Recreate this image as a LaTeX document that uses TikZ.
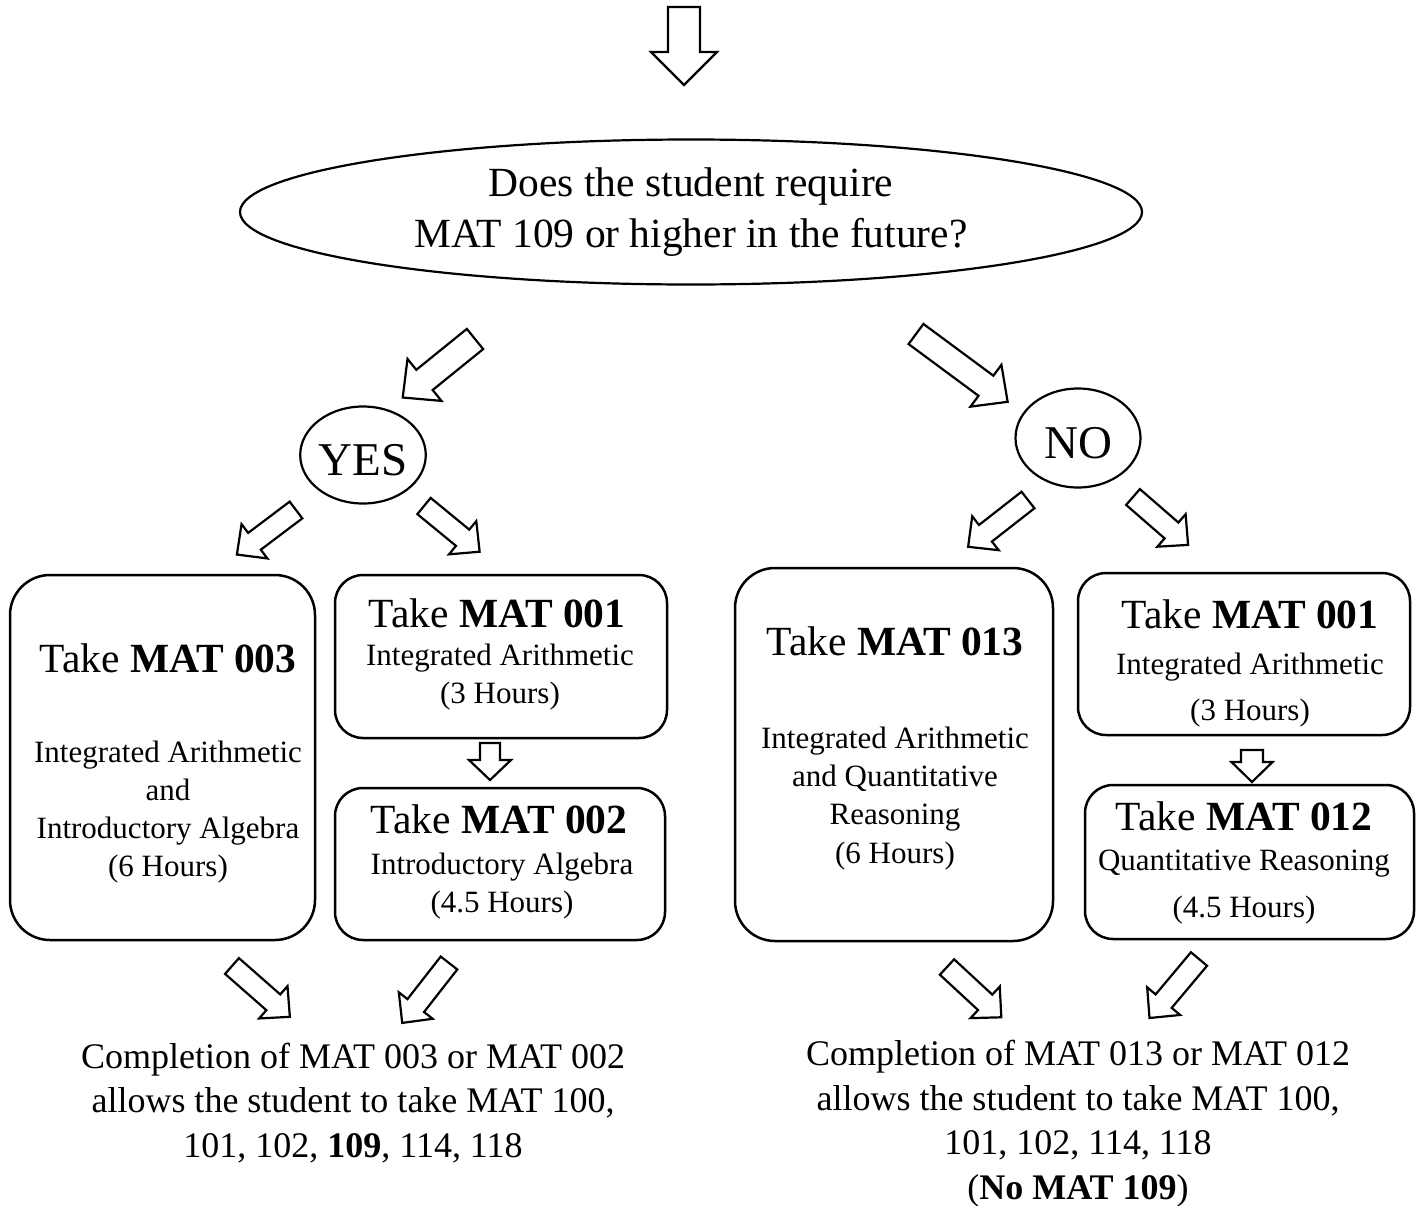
\documentclass[tikz,border=0pt]{standalone}
\usepackage{fontspec}
\setmainfont{Liberation Serif}
\usetikzlibrary{shapes.geometric}

% block arrow: tail, direction, length, shaft width, head width, head length
\newcommand{\blockarrow}[6]{%
    \draw[arrowline, shift={(#1)}, rotate=#2]
        (0,-#4/2) -- ({#3-#6},-#4/2) -- ({#3-#6},-#5/2) -- (#3,0)
        -- ({#3-#6},#5/2) -- ({#3-#6},#4/2) -- (0,#4/2) -- cycle;}

\begin{document}
\begin{tikzpicture}[
    x=1pt, y=-1pt,
    oval/.style={ellipse, draw, line width=2.2pt, inner sep=0pt},
    course/.style={rectangle, draw, line width=2.5pt, inner sep=0pt},
    arrowline/.style={draw, fill=white, line width=2.2pt, line join=miter},
    heading/.style={anchor=base, font=\fontsize{41.5}{46}\selectfont},
    details/.style={anchor=base, align=center, font=\fontsize{31}{38}\selectfont},
    outcome/.style={anchor=base, align=center, font=\fontsize{36}{44.5}\selectfont}]

    \useasboundingbox (0,0) rectangle (1424,1205);

    % question
    \blockarrow{684,7}{-90}{78}{32}{66}{33}
    \node[oval, minimum width=902, minimum height=145,
        font=\fontsize{41.5}{51}\selectfont, align=center] (question) at (691,212)
        {Does the student require\\MAT 109 or higher in the future?};

    % answers
    \blockarrow{475,339}{219}{93}{26}{54}{28}
    \blockarrow{916,334}{-36.5}{114}{25}{52}{27}
    \node[oval, minimum width=124, minimum height=97, text height=41pt, text depth=0pt,
        font=\fontsize{47}{50}\selectfont] (yes) at (363,455) {YES};
    \node[oval, minimum width=125, minimum height=99, text height=40pt, text depth=0pt,
        font=\fontsize{47}{50}\selectfont] (no) at (1078,438) {NO};

    \blockarrow{296,510}{217}{74}{21}{43}{22}
    \blockarrow{424,506}{-39.4}{72}{21}{43}{22}
    \blockarrow{1028,500}{218}{76}{21}{43}{22}
    \blockarrow{1133,497}{-41}{73}{21}{43}{22}

    % yes branch
    \node[course, rounded corners=40pt, minimum width=305, minimum height=365]
        (mat003) at (162.5,757.5) {};
    \node[heading] (mat003h) at (168,672) {Take \textbf{MAT 003}};
    \node[details] (mat003d) at (168,876)
        {Integrated Arithmetic\\and\\Introductory Algebra\\(6 Hours)};

    \node[course, rounded corners=28pt, minimum width=332, minimum height=163]
        (mat001a) at (501,656.5) {};
    \node[heading] (mat001ah) at (497,627) {Take \textbf{MAT 001}};
    \node[details] (mat001ad) at (500,703) {Integrated Arithmetic\\(3 Hours)};

    \blockarrow{490,743}{-90}{37}{20}{42}{20}

    \node[course, rounded corners=28pt, minimum width=330, minimum height=152]
        (mat002) at (500,864) {};
    \node[heading] (mat002h) at (499,833) {Take \textbf{MAT 002}};
    \node[details] (mat002d) at (502,912) {Introductory Algebra\\(4.5 Hours)};

    % no branch
    \node[course, rounded corners=40pt, minimum width=318, minimum height=373]
        (mat013) at (894,754.5) {};
    \node[heading] (mat013h) at (895,655) {Take \textbf{MAT 013}};
    \node[details, font=\fontsize{31}{38.3}\selectfont] (mat013d) at (895,863)
        {Integrated Arithmetic\\and Quantitative\\Reasoning\\(6 Hours)};

    \node[course, rounded corners=28pt, minimum width=332, minimum height=162]
        (mat001b) at (1244,654) {};
    \node[heading] (mat001bh) at (1250,628) {Take \textbf{MAT 001}};
    \node[details, font=\fontsize{31}{46}\selectfont] (mat001bd) at (1250,720)
        {Integrated Arithmetic\\(3 Hours)};

    \blockarrow{1252,750}{-90}{32}{22}{41}{20}

    \node[course, rounded corners=28pt, minimum width=329, minimum height=154]
        (mat012) at (1249.5,862) {};
    \node[heading] (mat012h) at (1244,830) {Take \textbf{MAT 012}};
    \node[details, font=\fontsize{31}{47}\selectfont] (mat012d) at (1244,917)
        {Quantitative Reasoning\\(4.5 Hours)};

    % outcomes
    \blockarrow{232,966}{-41.3}{77}{21}{43}{22}
    \blockarrow{449,963}{232}{76}{21}{43}{22}
    \blockarrow{947,967}{-42.8}{74}{21}{43}{22}
    \blockarrow{1199,959}{230}{77}{21}{43}{22}

    \node[outcome] (yesout) at (353,1157)
        {Completion of MAT 003 or MAT 002\\allows the student to take MAT 100,\\
        101, 102, \textbf{109}, 114, 118};
    \node[outcome] (noout) at (1078,1199)
        {Completion of MAT 013 or MAT 012\\allows the student to take MAT 100,\\
        101, 102, 114, 118\\(\textbf{No MAT 109})};

\end{tikzpicture}
\end{document}
